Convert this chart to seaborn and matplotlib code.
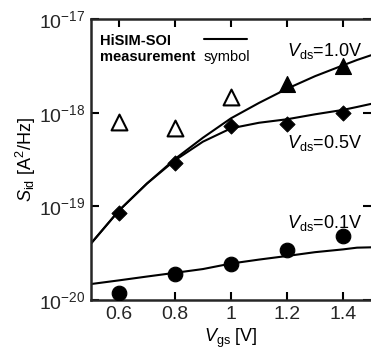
import numpy as np
import pandas as pd
import matplotlib
matplotlib.use("Agg")
import matplotlib.pyplot as plt
import seaborn as sns

# measured points
vgs_meas = [0.6, 0.8, 1.0, 1.2, 1.4]
sid_10 = [7.9e-19, 6.9e-19, 1.48e-18, 2.0e-18, 3.15e-18]
sid_10_open = [True, True, True, False, False]
sid_05 = [8.5e-20, 2.9e-19, 7.2e-19, 7.6e-19, 9.8e-19]
sid_01 = [1.2e-20, 1.88e-20, 2.43e-20, 3.43e-20, 4.8e-20]

# HiSIM-SOI curves
vgs_sim = [0.5, 0.6, 0.7, 0.8, 0.9, 1.0, 1.1, 1.2, 1.3, 1.4, 1.45, 1.5]
sim_10 = [4.0e-20, 9.0e-20, 1.75e-19, 3.2e-19, 5.4e-19, 8.7e-19, 1.27e-18, 1.8e-18,
          2.45e-18, 3.2e-18, 3.65e-18, 4.1e-18]
sim_05 = [4.0e-20, 9.0e-20, 1.75e-19, 3.1e-19, 4.9e-19, 6.8e-19, 7.8e-19, 8.5e-19,
          9.6e-19, 1.07e-18, 1.15e-18, 1.24e-18]
sim_01 = [1.48e-20, 1.62e-20, 1.78e-20, 1.95e-20, 2.14e-20, 2.45e-20, 2.7e-20, 2.95e-20,
          3.24e-20, 3.47e-20, 3.62e-20, 3.65e-20]

xticks = [0.6, 0.8, 1.0, 1.2, 1.4]
xticklabels = ["0.6", "0.8", "1", "1.2", "1.4"]

sns.set_style("ticks", {"xtick.direction": "in", "ytick.direction": "in"})
plt.rcParams["font.family"] = ["Liberation Sans", "DejaVu Sans"]
plt.rcParams["mathtext.fontset"] = "custom"
plt.rcParams["mathtext.rm"] = "Liberation Sans"
plt.rcParams["mathtext.it"] = "Liberation Sans:italic"
plt.rcParams["text.color"] = "black"
plt.rcParams["axes.labelcolor"] = "black"

fig = plt.figure(figsize=(3.71, 3.49), dpi=100)
ax = fig.add_axes([0.245, 0.1404, 0.755, 0.8052])

# curves
sns.lineplot(x=vgs_sim, y=sim_10, color="black", linewidth=1.5, ax=ax)
sns.lineplot(x=vgs_sim, y=sim_05, color="black", linewidth=1.5, ax=ax)
sns.lineplot(x=vgs_sim, y=sim_01, color="black", linewidth=1.5, ax=ax)

# measurement symbols
d10 = pd.DataFrame({"vgs": vgs_meas, "sid": sid_10, "open": sid_10_open})
sns.scatterplot(data=d10[d10["open"]], x="vgs", y="sid", marker="^", s=130,
                facecolor="white", edgecolor="black", linewidth=1.5, ax=ax, zorder=3)
sns.scatterplot(data=d10[~d10["open"]], x="vgs", y="sid", marker="^", s=130,
                color="black", edgecolor="black", ax=ax, zorder=3)
sns.scatterplot(x=vgs_meas, y=sid_05, marker="D", s=60, color="black",
                edgecolor="black", ax=ax, zorder=3)
sns.scatterplot(x=vgs_meas, y=sid_01, marker="o", s=110, color="black",
                edgecolor="black", ax=ax, zorder=3)

ax.set_yscale("log")
ax.set_xlim(0.5, 1.5)
ax.set_ylim(1e-20, 1e-17)
ax.set_xticks(xticks)
ax.set_xticklabels(xticklabels)
ax.minorticks_off()
for s in ["left", "bottom", "top"]:
    ax.spines[s].set_linewidth(1.8)
ax.spines["right"].set_linewidth(0)

ax.set_xlabel(r"$V_{\mathrm{gs}}$ [V]", fontsize=13, labelpad=3)
ax.set_ylabel(r"$S_{\mathrm{id}}$ [A$^2$/Hz]", fontsize=13, labelpad=1)

# legend-like annotation
ax.text(0.032, 0.923, "HiSIM-SOI", transform=ax.transAxes, fontsize=10.5,
        fontweight="bold", va="center")
ax.text(0.032, 0.864, "measurement", transform=ax.transAxes, fontsize=10.5,
        fontweight="bold", va="center")
ax.axhline(10 ** (-20 + 0.93 * 3), xmin=0.404, xmax=0.557, color="black", lw=1.5)
ax.text(0.404, 0.864, "symbol", transform=ax.transAxes, fontsize=10.5, va="center")

ax.text(1.2, 4.6e-18, r"$V_{\mathrm{ds}}$=1.0V", fontsize=13, va="center")
ax.text(1.2, 4.7e-19, r"$V_{\mathrm{ds}}$=0.5V", fontsize=13, va="center")
ax.text(1.2, 6.7e-20, r"$V_{\mathrm{ds}}$=0.1V", fontsize=13, va="center")

# draw once so the ticks exist, then style them
fig.canvas.draw()
ax.tick_params(which="major", direction="in", length=6, width=1.5, color="black",
               top=True, right=True, labelsize=14, pad=4)
fig.canvas.draw()
fig.savefig("out.png", dpi=100)
